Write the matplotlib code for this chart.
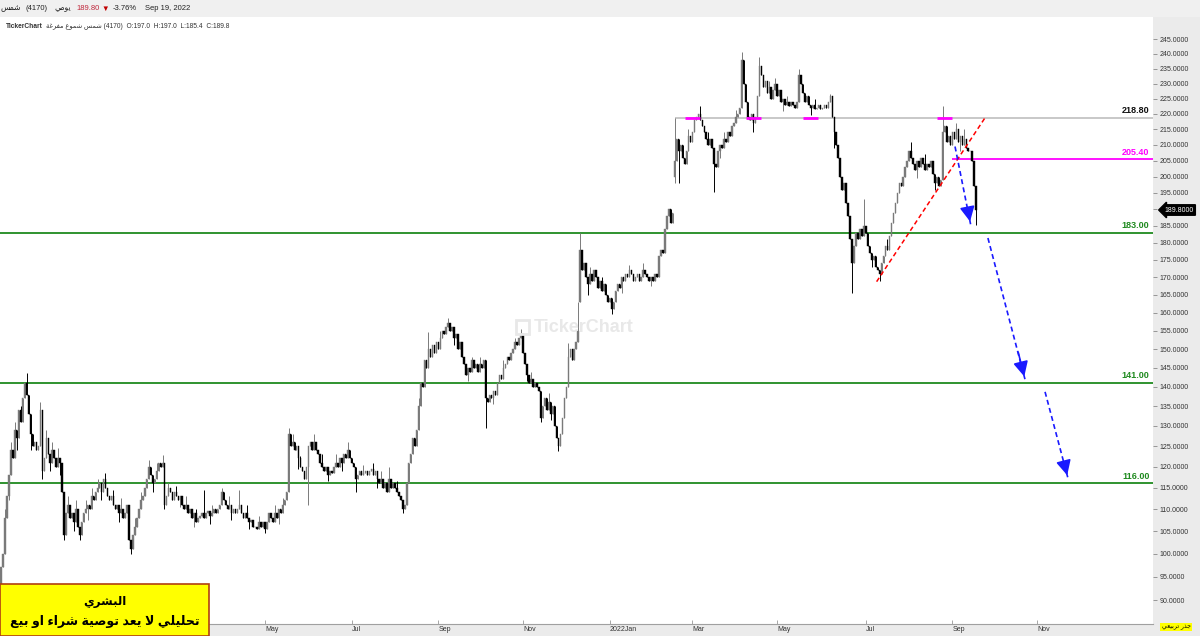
import numpy as np
import pandas as pd
import matplotlib
matplotlib.use("Agg")
import matplotlib.pyplot as plt
import matplotlib.transforms as mtransforms
from matplotlib.patches import Rectangle

plt.rcParams["font.family"] = ["Liberation Sans", "DejaVu Sans"]

# ---- daily closes (شمس 4170), Oct 2020 -> 19 Sep 2022 ----
close_a = [92, 97, 100, 108, 113, 118, 124, 122, 129, 127, 134, 131, 137, 141, 138]
close_b = [133, 128, 125, 126, 124, 125, 134, 119, 122, 127, 123, 121, 124, 122, 120,
           122, 121, 114]
close_c = [104, 109, 111, 108, 109, 107, 110, 106, 104, 107, 109, 110, 111, 110, 113,
           112, 114, 115, 116, 114, 117, 115]
close_d = [113, 112, 113, 111, 110, 111, 109, 110, 108, 109, 111, 103, 101, 104, 106,
           108, 110, 112, 113]
close_e = [115, 117, 120, 118, 116, 117, 119, 121, 120, 121, 111,
           113, 115, 114, 112, 114, 113, 112, 113, 111, 110, 111, 109, 110, 108, 109,
           107, 108, 108.5, 109, 108, 109, 109.5, 108.5, 109, 110, 109, 110, 111, 114]
close_f = [112, 111, 110, 111, 109, 110, 109, 110, 111, 109, 108, 109, 108, 107, 107.5, 106,
           106, 105.5, 107, 106, 107, 105.5, 107, 109, 108, 107, 109, 108, 110, 109, 111,
           112, 114]
close_g = [128, 125, 126, 124, 125, 122, 120, 119, 117, 120, 125, 126, 124,
           126, 124, 123, 121, 120, 119, 120, 118, 119, 118.5, 120, 121, 120, 122, 121,
           123, 122, 124, 122, 121, 120, 117,
           118, 119, 118, 118.5, 119, 118, 119, 119.5, 118, 119, 117, 116, 117, 115, 116,
           114, 117, 115, 116, 115, 114, 113, 112, 110, 111]
close_h = [116, 121, 123, 127, 125, 129, 135, 141, 140, 147, 145, 150, 148,
           151, 149, 152, 150, 153, 155, 154, 156, 157, 155, 156, 153, 154, 150, 152,
           148, 146, 143, 145, 144, 147, 145, 146, 144, 146]
close_i = [145, 147, 137, 136, 138, 137, 139, 138, 141, 143, 142, 145, 146, 148, 147,
           149, 150, 152, 151, 153, 154, 149, 146, 143, 141, 142, 140, 141, 140, 139, 132,
           135, 137, 134, 136, 133, 135, 130, 127, 125, 128, 132, 137, 140, 148, 150,
           147, 150, 152, 155]
close_j = [178, 172, 174, 170, 168, 171, 169, 172, 170, 167, 169, 166, 168, 165, 163,
           164, 161, 163, 166, 168, 167, 170, 169, 171, 170, 172, 171, 169, 170, 171,
           169, 170, 172, 171, 170, 169, 170, 169, 171, 170, 176, 178, 177, 184, 188,
           190, 186, 189]
close_k = [205, 212, 208, 210, 206, 204, 208, 213, 211, 214, 218, 219, 220, 218, 216,
           214, 212, 210, 212, 209, 204, 203, 208, 210, 209, 212, 211, 214, 213, 216,
           217, 219, 220, 222,
           238, 230, 224, 219, 218, 220, 217, 219, 226, 236, 233, 229, 231, 227, 229,
           225, 228, 230, 226, 228, 224, 225, 223, 224, 222.5, 224, 223, 222, 224, 233,
           230, 227, 224, 226, 223, 222, 223, 221.5, 222, 223, 221.5, 222, 223, 222,
           224, 226, 219]
close_l = [214, 210, 206, 200, 196, 198, 192, 188, 181, 174, 179, 183, 181, 184, 182,
           185, 183, 179, 177, 175, 176, 173, 172, 171, 174, 176, 179, 178, 182, 186,
           189, 192, 195, 198, 197, 200, 203, 205, 208, 206, 204, 202, 205, 203, 206,
           204, 202, 204, 203, 205, 201, 198, 200, 197, 199, 214, 216, 211, 213, 210,
           214, 212, 215, 211, 213, 210, 212, 209, 208, 208, 205, 197, 189.8]

# opens that gap away from the previous close (bar number -> open)
open_gaps = {0: 89, 295: 163, 343: 200}
# visible wick extremes (bar number -> price)
wick_high = {3: 110, 6: 126, 8: 131, 11: 135, 14: 143.5, 17: 128, 21: 136, 24: 129,
             27: 126, 30: 124.5, 35: 113, 39: 112, 44: 112, 47: 115, 50: 117,
             54: 118.6, 58: 114.5, 62: 112.5, 69: 108, 72: 114, 76: 121.5, 80: 121,
             83: 122.8, 86: 116, 90: 115.5, 95: 113, 100: 110, 104: 114.5, 108: 111,
             113: 115, 117: 113, 122: 114.5, 126: 111, 132: 108.5, 140: 111, 144: 112.5,
             147: 129.5, 149: 128, 153: 122.5, 160: 128, 164: 123, 171: 123, 177: 126,
             185: 120.5, 190: 121, 194: 119, 198: 120, 202: 116.5, 213: 137,
             218: 154.6, 224: 155, 228: 158.5, 233: 153, 240: 148, 244: 148, 256: 147,
             262: 153, 265: 155.5, 270: 144, 279: 138.5, 289: 151.7,
             294: 163, 295: 183, 300: 173, 306: 170, 320: 173.5, 327: 174, 343: 218.8,
             350: 215, 356: 222.6, 360: 214, 368: 214, 374: 221.3, 377: 240.5, 386: 239,
             391: 231, 394: 232, 400: 226, 406: 235, 414: 225, 422: 226.5,
             439: 193, 451: 181, 463: 211, 470: 207, 479: 222.6, 486: 217, 490: 215}
wick_low = {0: 86, 5: 112, 9: 124, 16: 124, 22: 117, 26: 119, 31: 118, 33: 103, 38: 105,
            41: 103, 45: 107.5, 52: 112, 61: 107, 67: 100, 78: 114, 84: 110, 92: 110.5,
            99: 106, 107: 106.5, 118: 107.5, 127: 105.5, 135: 104.5, 142: 106.5,
            152: 119.5, 157: 111, 167: 116.5, 174: 119, 181: 114, 192: 115, 205: 109,
            231: 151, 238: 141.5, 247: 129.5, 251: 135.5, 268: 141.5, 275: 131,
            280: 131.5, 284: 123.7, 299: 165, 311: 159.5, 316: 165.5, 331: 167.5,
            343: 198, 345: 198, 363: 195.4, 366: 206, 383: 214, 398: 221, 412: 219.5,
            424: 209, 433: 165.4, 443: 173, 447: 168.8, 466: 199.5, 475: 196,
            488: 208, 496: 185.4}

# levels and drawings
lvl_top, lvl_neck = 218.80, 205.40
lvl_green = [183.00, 141.00, 116.00]
touch_bars = [352, 383, 412, 480]            # pink marks on 218.80
trend_bars, trend_prices = [445.5, 501], [168.7, 219.2]
arrows = [((485.3, 209.5), (493.2, 185.5)),
          ((502.0, 181.4), (520.8, 142.0)),
          ((531.0, 138.7), (542.6, 117.3))]

# ---- Arabic shaping (matplotlib has no shaper) ----
AR = {
    "ا": (0xFE8D, 0xFE8E, None, None), "ب": (0xFE8F, 0xFE90, 0xFE91, 0xFE92),
    "ة": (0xFE93, 0xFE94, None, None), "ت": (0xFE95, 0xFE96, 0xFE97, 0xFE98),
    "ج": (0xFE9D, 0xFE9E, 0xFE9F, 0xFEA0), "ح": (0xFEA1, 0xFEA2, 0xFEA3, 0xFEA4),
    "د": (0xFEA9, 0xFEAA, None, None), "ذ": (0xFEAB, 0xFEAC, None, None),
    "ر": (0xFEAD, 0xFEAE, None, None), "س": (0xFEB1, 0xFEB2, 0xFEB3, 0xFEB4),
    "ش": (0xFEB5, 0xFEB6, 0xFEB7, 0xFEB8), "ص": (0xFEB9, 0xFEBA, 0xFEBB, 0xFEBC),
    "ع": (0xFEC9, 0xFECA, 0xFECB, 0xFECC), "غ": (0xFECD, 0xFECE, 0xFECF, 0xFED0),
    "ف": (0xFED1, 0xFED2, 0xFED3, 0xFED4), "ل": (0xFEDD, 0xFEDE, 0xFEDF, 0xFEE0),
    "م": (0xFEE1, 0xFEE2, 0xFEE3, 0xFEE4), "و": (0xFEED, 0xFEEE, None, None),
    "ي": (0xFEF1, 0xFEF2, 0xFEF3, 0xFEF4), "ء": (0xFE80, None, None, None),
    "\ufefb": (0xFEFB, 0xFEFC, None, None),
}


def ar(text):
    chars = list(text.replace("لا", "\ufefb"))
    out = []
    for k, ch in enumerate(chars):
        f = AR.get(ch)
        if f is None:
            out.append(ch)
            continue
        prev = AR.get(chars[k - 1]) if k > 0 else None
        nxt = AR.get(chars[k + 1]) if k + 1 < len(chars) else None
        jp = prev is not None and prev[2] is not None and f[1] is not None
        jn = f[2] is not None and nxt is not None and nxt[1] is not None
        cp = f[3] if (jp and jn) else f[1] if jp else f[2] if jn else f[0]
        out.append(chr(cp))
    return "".join(reversed(out))


W, H = 1200, 636


def px(x, y):
    return x / W, 1 - y / H


close = np.array(close_a + close_b + close_c + close_d + close_e + close_f + close_g
                 + close_h + close_i + close_j + close_k + close_l, dtype=float)
n = len(close)
opens = np.r_[close[0], close[:-1]]
for k, v in open_gaps.items():
    opens[k] = v
highs = np.maximum(opens, close)
lows = np.minimum(opens, close)
for k, v in wick_high.items():
    highs[k] = max(highs[k], v)
for k, v in wick_low.items():
    lows[k] = min(lows[k], v)
idx = np.arange(n)

wk = "Sun Mon Tue Wed Thu"
dates = pd.bdate_range(end="2022-09-19", periods=n, freq="C", weekmask=wk)
future = pd.bdate_range(start="2022-09-20", periods=120, freq="C", weekmask=wk)
all_dates = dates.append(future)

fig = plt.figure(figsize=(W / 100, H / 100), dpi=100)
fig.patch.set_facecolor("white")

# panels
fig.add_artist(Rectangle(px(0, 17), 1, 17 / H, transform=fig.transFigure,
                         fc="#f0f0f0", ec="none", zorder=0))
fig.add_artist(Rectangle(px(1153, 636), 47 / W, 619 / H, transform=fig.transFigure,
                         fc="#ebebeb", ec="none", zorder=0))
fig.add_artist(Rectangle(px(0, 636), 1, 11 / H, transform=fig.transFigure,
                         fc="#ebebeb", ec="none", zorder=0))

ax = fig.add_axes([0, 12 / H, 1153 / W, 606 / H])
ax.set_facecolor("white")
ax.set_yscale("function", functions=(np.sqrt, np.square))
ax.set_xlim(0.5, 585.8)
ax.set_ylim(85.1, 252.4)
for s in ("top", "left", "right"):
    ax.spines[s].set_visible(False)
ax.spines["bottom"].set_color("#a0a0a0")
ax.spines["bottom"].set_linewidth(0.8)

# candles
UP, DN = "#7a7a7a", "#000000"
up = close >= opens
for m, col in ((up, UP), (~up, DN)):
    ax.vlines(idx[m], lows[m], highs[m], color=col, lw=0.7, zorder=3)
    ax.bar(idx[m], np.abs(close - opens)[m], bottom=np.minimum(opens, close)[m],
           width=0.75, color=col, edgecolor=col, lw=0.3, zorder=3)

# levels
ax.hlines(lvl_top, 343, 585.8, color="#c4c4c4", lw=1.3, zorder=2)
ax.hlines(lvl_neck, 484, 585.8, color="#ff00ff", lw=1.3, zorder=2)
for lv in lvl_green:
    ax.hlines(lv, 0.5, 585.8, color="#1f8a1f", lw=1.3, zorder=2)
for b in touch_bars:
    ax.hlines(lvl_top, b - 3.8, b + 3.8, color="#ff00ff", lw=2.0, zorder=4)

lab_tr = mtransforms.blended_transform_factory(ax.transAxes, ax.transData)
for lv, col in [(lvl_top, "#111111"), (lvl_neck, "#ff00ff")] + [(v, "#1f8a1f") for v in lvl_green]:
    ax.annotate(f"{lv:.2f}", xy=(0.997, lv), xycoords=lab_tr, xytext=(0, 2),
                textcoords="offset points", ha="right", va="bottom",
                fontsize=6.5, fontweight="bold", color=col)

ax.plot(trend_bars, trend_prices, color="#ff0000", lw=1.1, ls=(0, (3, 2)), zorder=5)
for (x0, y0), (x1, y1) in arrows:
    ax.plot([x0, x1], [y0, y1], color="#1a1aff", lw=1.2, ls=(0, (3, 2)), zorder=5)
    ax.annotate("", xy=(x1, y1), xytext=(x0 + (x1 - x0) * 0.8, y0 + (y1 - y0) * 0.8),
                arrowprops=dict(arrowstyle="-|>,head_length=0.9,head_width=0.45",
                                color="#1a1aff", lw=1.2), zorder=6)

# y axis on the right (the 190 label sits under the last-price tag)
yt = np.arange(90, 246, 5)
ax.yaxis.tick_right()
ax.set_yticks(yt)
ax.set_yticklabels(["" if v == 190 else f"{v:.4f}" for v in yt])
ax.yaxis.set_minor_locator(matplotlib.ticker.NullLocator())
ax.tick_params(axis="y", direction="out", length=3, width=0.6, color="#888888",
               labelsize=5, labelcolor="#333333", pad=1.5)

# month ticks
pos = pd.Series(np.arange(len(all_dates)), index=all_dates)
firsts = pos.groupby([all_dates.year, all_dates.month]).first()
xt, xl = [], []
for (yy, mm), p in firsts.items():
    if mm % 2 == 1 and 0.5 < p < 560:
        xt.append(p)
        xl.append(f"{yy}Jan" if mm == 1 else pd.Timestamp(yy, mm, 1).strftime("%b"))
ax.set_xticks(xt)
ax.set_xticklabels(xl)
ax.tick_params(axis="x", direction="in", length=3, width=0.6, color="#999999",
               labelsize=5, labelcolor="#333333", pad=1.5)
for t in ax.get_xticklabels():
    t.set_ha("left")

# watermark
fig.text(*px(534, 327), "TickerChart", fontsize=13, fontweight="bold", color="#e8e8e8",
         ha="left", va="center", zorder=1)
fig.add_artist(Rectangle(px(516, 334), 13 / W, 14 / H, transform=fig.transFigure,
                         fc="none", ec="#e8e8e8", lw=2, zorder=1))

# header
hdr = dict(fontsize=5.5, color="#222222", va="center")
fig.text(*px(21, 9), ar("شمس"), ha="right", **hdr)
fig.text(*px(25, 9), "(4170)", **hdr)
fig.text(*px(55, 9), ar("يومي"), **hdr)
fig.text(*px(76, 9), "189.80", fontsize=5.5, color="#c0283c", va="center")
fig.text(*px(101, 9), "\u25bc", fontsize=5.5, color="#c00000", va="center")
fig.text(*px(113, 9), "-3.76%", **hdr)
fig.text(*px(145, 9), "Sep 19, 2022", **hdr)
fig.text(*px(6, 26), "TickerChart", fontsize=4.8, fontweight="bold", color="#333333",
         va="center")
fig.text(*px(46, 26), ar("شمس شموع مفرغة") + " (4170)  O:197.0  H:197.0  L:185.4  C:189.8",
         fontsize=4.8, color="#333333", va="center")

# last price tag
fig.text(*px(1179, 210), "189.8000", fontsize=5, color="white", ha="center", va="center",
         bbox=dict(boxstyle="larrow,pad=0.25", fc="black", ec="black"), zorder=10)

# disclaimer box
fig.add_artist(Rectangle(px(0, 636), 209 / W, 52 / H, transform=fig.transFigure,
                         fc="#ffff00", ec="#b04010", lw=1.2, zorder=20))
fig.text(*px(105, 602), ar("البشري"), fontsize=8.5, fontweight="bold", color="black",
         ha="center", va="center", zorder=21)
fig.text(*px(105, 621), ar("تحليلي لا يعد توصية شراء او بيع"), fontsize=9,
         fontweight="bold", color="black", ha="center", va="center", zorder=21)

fig.text(*px(1176, 627), ar("جذر تربيعي"), fontsize=4.5, color="black", ha="center",
         va="center", bbox=dict(boxstyle="square,pad=0.2", fc="#ffff00", ec="none"),
         zorder=10)

fig.savefig("out.png", dpi=100)
